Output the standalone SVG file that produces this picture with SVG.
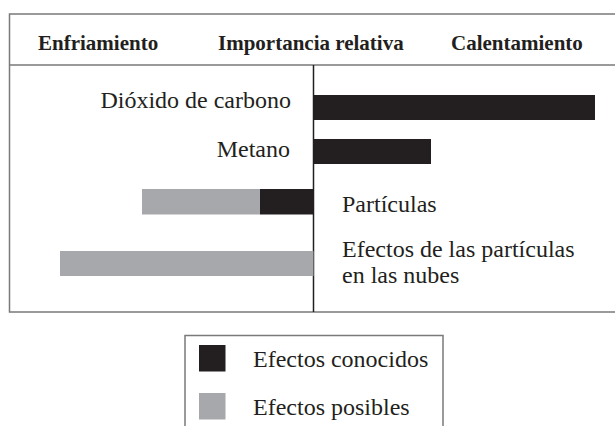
<svg xmlns="http://www.w3.org/2000/svg" width="615" height="426" viewBox="0 0 615 426">
<style>
.frame{fill:none;stroke:#7a7a7a;stroke-width:1.5}
.axis{stroke:#231f20;stroke-width:1.5}
.known{fill:#231f20}
.possible{fill:#a7a8ab}
.h{font-family:'Liberation Serif','Times New Roman',serif;font-weight:bold;font-size:21px;fill:#231f20}
.t{font-family:'Liberation Serif','Times New Roman',serif;font-size:24px;fill:#231f20}
</style>
<rect width="615" height="426" fill="#fff"/>
<g id="frame">
<path class="frame" d="M615,14 H9.5 V312 H615 M9.5,65 H615"/>
</g>
<g id="header">
<text class="h" x="38" y="50">Enfriamiento</text>
<text class="h" x="218" y="50">Importancia relativa</text>
<text class="h" x="451" y="50">Calentamiento</text>
</g>
<g id="connectors">
<line class="axis" x1="313.5" y1="65" x2="313.5" y2="312"/>
</g>
<g id="co2">
<rect class="known" x="313.5" y="95" width="281.5" height="25"/>
<text class="t" x="291" y="108" text-anchor="end">Dióxido de carbono</text>
</g>
<g id="metano">
<rect class="known" x="313.5" y="139" width="117.5" height="25"/>
<text class="t" x="290" y="157" text-anchor="end">Metano</text>
</g>
<g id="particulas">
<rect class="possible" x="142" y="189" width="118" height="25.5"/>
<rect class="known" x="260" y="189" width="53.5" height="25.5"/>
<text class="t" x="342" y="212">Partículas</text>
</g>
<g id="nubes">
<rect class="possible" x="60" y="251" width="253.5" height="25"/>
<text class="t" x="342" y="257">Efectos de las partículas</text>
<text class="t" x="342" y="283">en las nubes</text>
</g>
<g id="legend">
<path class="frame" d="M185,426 V335.5 H443 V426"/>
<rect class="known" x="199" y="345" width="26.5" height="26.5"/>
<text class="t" x="253" y="367">Efectos conocidos</text>
<rect class="possible" x="199" y="393" width="26.5" height="26.5"/>
<text class="t" x="253" y="415">Efectos posibles</text>
</g>
</svg>
